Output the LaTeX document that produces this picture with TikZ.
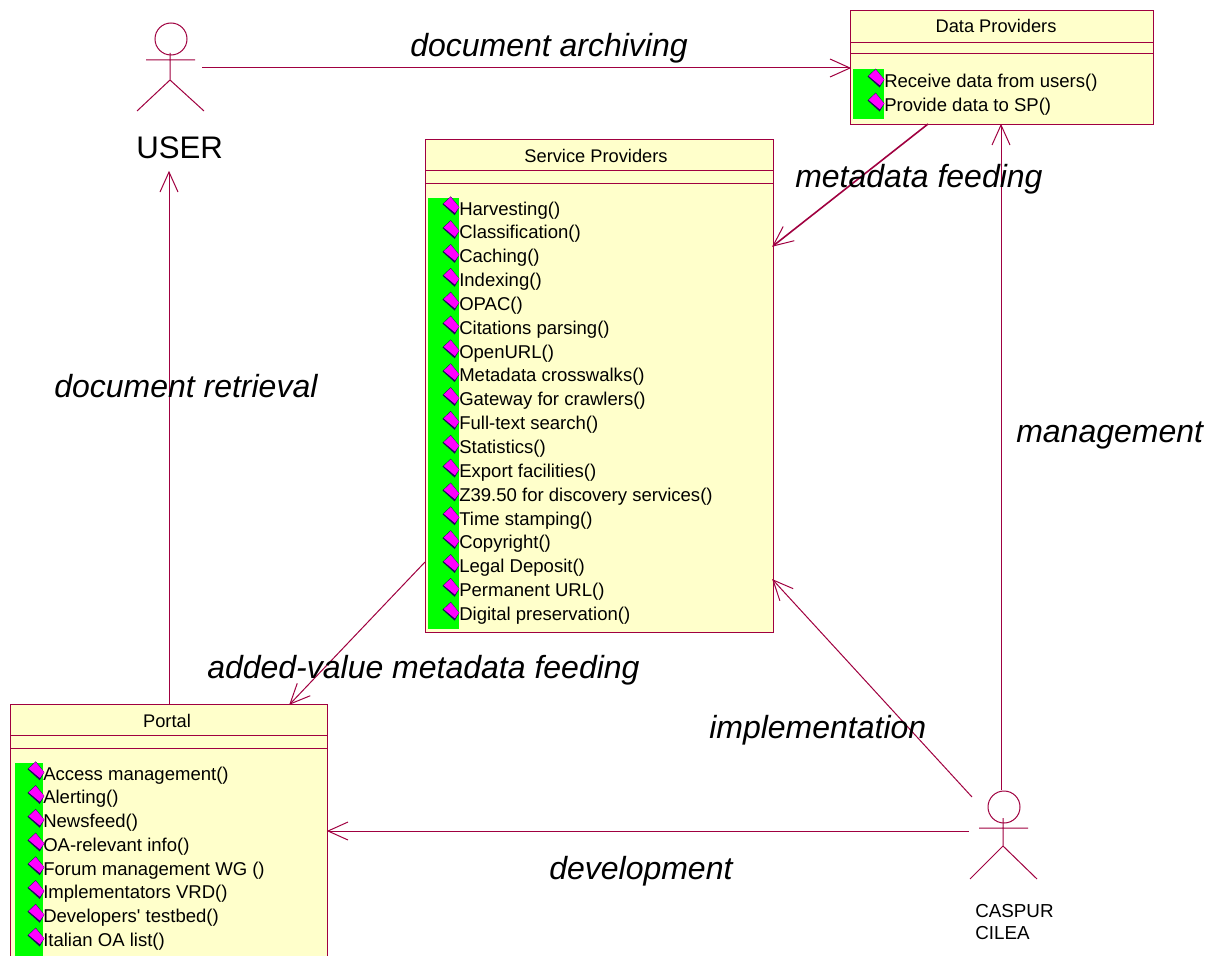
\documentclass[tikz,border=0pt]{standalone}
\usepackage{fontspec}
\newfontfamily\uifont{Liberation Sans}
\usetikzlibrary{arrows.meta}
\definecolor{umlline}{HTML}{A00040}
\definecolor{umlfill}{HTML}{FFFFCB}
\definecolor{umlgreen}{HTML}{00FF00}
\definecolor{umlmag}{HTML}{FF00FF}
\definecolor{umlnavy}{HTML}{200060}
\pgfdeclarearrow{
  name=OpenV,
  setup code={
    \pgfarrowssettipend{0pt}
    \pgfarrowssetlineend{-0.4pt}
    \pgfarrowssetvisualbackend{-15pt}
    \pgfarrowssetbackend{-15pt}
    \pgfarrowshullpoint{0pt}{0pt}
    \pgfarrowshullpoint{-15pt}{6.75pt}
    \pgfarrowshullpoint{-15pt}{-6.75pt}
  },
  drawing code={
    \pgfsetlinewidth{0.75pt}
    \pgfsetmiterjoin
    \pgfsetbuttcap
    \pgfpathmoveto{\pgfqpoint{-15pt}{6.75pt}}
    \pgfpathlineto{\pgfqpoint{0pt}{0pt}}
    \pgfpathlineto{\pgfqpoint{-15pt}{-6.75pt}}
    \pgfusepathqstroke
  }
}
\tikzset{
  x=0.75pt,y=-0.75pt,
  umlbox/.style={draw=umlline,fill=umlfill,line width=0.75pt,anchor=north west,inner sep=0pt,minimum width=#1},
  divider/.style={draw=umlline,line width=0.75pt},
  greenbar/.style={fill=umlgreen,draw=none},
  conn/.style={draw=umlline,line width=0.75pt,-OpenV},
  stick/.style={draw=umlline,line width=0.75pt},
  boxtitle/.style={font=\uifont\fontsize{13.7}{16}\selectfont,anchor=base,inner sep=0pt},
  oper/.style={font=\uifont\fontsize{13.9}{16}\selectfont,anchor=base west,inner sep=0pt},
  flow/.style={font=\uifont\itshape\fontsize{24}{28}\selectfont,anchor=base west,inner sep=0pt},
  actorname/.style={font=\uifont\fontsize{23.4}{28}\selectfont,anchor=base west,inner sep=0pt},
  actorsmall/.style={font=\uifont\fontsize{14.1}{16}\selectfont,anchor=base west,inner sep=0pt},
  pics/opicon/.style={code={
    \fill[umlnavy] (-8.5,-1.5) -- (-0.3,-9.3) -- (8.3,1.5) -- (3.7,9.5) -- cycle;
    \fill[umlmag] (-7.3,-2) -- (-0.3,-8.6) -- (8,1.5) -- (3.9,7.3) -- cycle;
  }}
}
\begin{document}
\begin{tikzpicture}
\useasboundingbox (0,0) rectangle (1210,956);
\clip (0,0) rectangle (1210,956);
\fill[white] (0,0) rectangle (1210,956);

% class boxes
\node[umlbox=303*0.75pt,minimum height=114*0.75pt] (dp) at (850,10) {};
\node[umlbox=348*0.75pt,minimum height=493*0.75pt] (sp) at (425,139) {};
\node[umlbox=317*0.75pt,minimum height=320*0.75pt] (po) at (10,704) {};

\draw[divider] (850,43) -- (1153,43) (850,54) -- (1153,54);
\draw[divider] (425,170) -- (773,170) (425,183) -- (773,183);
\draw[divider] (10,735) -- (327,735) (10,748) -- (327,748);

\fill[greenbar] (853,69) rectangle (884,119);
\fill[greenbar] (428,198) rectangle (459,629);
\fill[greenbar] (15,763) rectangle (43,956);

\node[boxtitle] (dpt) at (996,32.5) {Data Providers};
\node[boxtitle] (spt) at (596,162) {Service Providers};
\node[boxtitle] (pot) at (167,727) {Portal};

% operations
\foreach \t [count=\i from 0] in {Receive data from users(),Provide data to SP()}{
  \pic at (876,{78+24*\i}) {opicon};
  \node[oper] (dpop\i) at (884,{87.3+24*\i}) {\t};
}
\foreach \t [count=\i from 0] in {Harvesting(),Classification(),Caching(),Indexing(),OPAC(),Citations parsing(),OpenURL(),Metadata crosswalks(),Gateway for crawlers(),Full-text search(),Statistics(),Export facilities(),Z39.50 for discovery services(),Time stamping(),Copyright(),Legal Deposit(),Permanent URL(),Digital preservation()}{
  \pic at (451,{205.7+23.85*\i}) {opicon};
  \node[oper] (spop\i) at (459,{215+23.85*\i}) {\t};
}
\foreach \t [count=\i from 0] in {Access management(),Alerting(),Newsfeed(),OA-relevant info(),Forum management WG (),Implementators VRD(),Developers' testbed(),Italian OA list()}{
  \pic at (36,{770.7+23.75*\i}) {opicon};
  \node[oper] (poop\i) at (43,{780+23.75*\i}) {\t};
}

% actors
\draw[stick] (171,39) circle (16);
\draw[stick] (146,60) -- (195,60) (170,53) -- (170,80) -- (137,111) (170,80) -- (204,111);
\node[actorname] (user) at (136,158) {USER};
\coordinate (userout) at (202,68);
\coordinate (userin) at (169,172);

\draw[stick] (1004,807) circle (16);
\draw[stick] (979,828) -- (1028,828) (1003,818) -- (1003,846) -- (970,879) (1003,846) -- (1037,879);
\node[actorsmall] (cas) at (975,917) {CASPUR};
\node[actorsmall] (cil) at (975,939) {CILEA};
\coordinate (casup) at (1001,790);
\coordinate (casdiag) at (972,797);
\coordinate (casleft) at (969,831);

% connectors
\coordinate (dpsrc) at (928,124);
\coordinate (sptgt) at (773,246);
\coordinate (spsrc) at (425,562);
\coordinate (potgt) at (290,704);
\coordinate (sptgt2) at (773,580);
\draw[conn] (userout) -- (dp.west |- userout);
\draw[conn,line width=1.2pt] (dpsrc) -- (sptgt);
\draw[conn] (casup) -- (casup |- dp.south);
\draw[conn] (po.north) -- (po.north |- userin);
\draw[conn] (spsrc) -- (potgt);
\draw[conn] (casdiag) -- (sptgt2);
\draw[conn] (casleft) -- (casleft -| po.east);

% flow labels
\node[flow] (l1) at (410,57) {document archiving};
\node[flow] (l2) at (795,187) {metadata feeding};
\node[flow] (l3) at (54,397) {document retrieval};
\node[flow] (l4) at (1016,442) {management};
\node[flow] (l5) at (207,678) {added-value metadata feeding};
\node[flow] (l6) at (709,738) {implementation};
\node[flow] (l7) at (549,879) {development};
\end{tikzpicture}
\end{document}
